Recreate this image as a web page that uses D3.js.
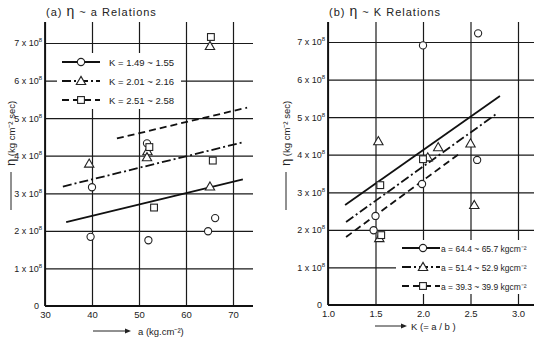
<!DOCTYPE html>
<html>
<head>
<meta charset="utf-8">
<script src="https://d3js.org/d3.v7.min.js"></script>
<style>
  body { margin: 0; background: #fff; }
  svg { font-family: "Liberation Sans", Arial, sans-serif; fill: #222; }
  .grid line { stroke: #1a1a1a; stroke-width: 1.2; }
  .grid path { display: none; }
  .axisline { stroke: #111; stroke-width: 1.8; }
  .fit { fill: none; stroke: #111; stroke-width: 1.8; }
  .mark { fill: #fff; stroke: #222; stroke-width: 1.1; }
</style>
</head>
<body>
<script>
// ---- data ----
// panel (a): eta vs a, grouped by K
var aCircles   = [[40, 3.16], [39.7, 1.84], [51.7, 4.33], [52, 1.75], [64.7, 1.99], [66.2, 2.34]];
var aTriangles = [[39.4, 3.79], [51.8, 4.12], [51.7, 3.96], [65.1, 3.18], [65.1, 6.92]];
var aSquares   = [[52.2, 4.23], [53.2, 2.62], [65.7, 3.87], [65.3, 7.16]];
var aFitSolid   = [[34.5, 2.23], [72.1, 3.37]];
var aFitDashDot = [[33.8, 3.18], [71.9, 4.35]];
var aFitDashed  = [[45.3, 4.46], [73.0, 5.28]];
var aTicksX = [30, 40, 50, 60, 70];
var aLegend = ["K = 1.49 ~ 1.55", "K = 2.01 ~ 2.16", "K = 2.51 ~ 2.58"];

// panel (b): eta vs K, grouped by a
var kCircles   = [[2.58, 7.23], [2.0, 6.91], [2.57, 3.86], [1.99, 3.22], [1.5, 2.37], [1.48, 1.99]];
var kTriangles = [[1.53, 4.36], [2.16, 4.2], [2.5, 4.3], [2.05, 3.93], [2.54, 2.66], [1.54, 1.78]];
var kSquares   = [[2.0, 3.88], [1.55, 3.19], [1.56, 1.86]];
var kFitSolid   = [[1.18, 2.66], [2.81, 5.56]];
var kFitDashDot = [[1.19, 2.21], [2.78, 5.10]];
var kFitDashed  = [[1.19, 1.81], [2.39, 4.04]];
var kTicksX = [1.0, 1.5, 2.0, 2.5, 3.0];
var kLegend = ["a = 64.4 ~ 65.7 kgcm⁻²", "a = 51.4 ~ 52.9 kgcm⁻²", "a = 39.3 ~ 39.9 kgcm⁻²"];

var yTicks = [0, 1, 2, 3, 4, 5, 6, 7];

var svg = d3.select("body").append("svg")
    .attr("width", 534).attr("height", 340);

var dashes = { solid: null, dashdot: "9,3,2,3", dashed: "7,4" };

function marker(g, type, x, y) {
  if (type == "circle") {
    g.append("circle").attr("class", "mark").attr("cx", x).attr("cy", y).attr("r", 3.6);
  } else if (type == "triangle") {
    g.append("path").attr("class", "mark")
      .attr("d", d3.symbol().type(d3.symbolTriangle).size(38)())
      .attr("transform", "translate(" + x + "," + (y + 0.8) + ")");
  } else {
    g.append("rect").attr("class", "mark")
      .attr("x", x - 3.4).attr("y", y - 3.4).attr("width", 6.8).attr("height", 6.8);
  }
}

function panel(o) {
  var x = d3.scaleLinear().domain(o.xDomain).range(o.xRange);
  var y = d3.scaleLinear().domain([0, 7]).range(o.yRange);
  var top = 22, bottom = o.yRange[0];
  var g = svg.append("g");

  // horizontal grid + y labels
  var ya = g.append("g").attr("class", "grid")
    .attr("transform", "translate(" + o.xRange[0] + ",0)")
    .call(d3.axisLeft(y).tickValues(yTicks).tickSize(-(o.xEnd - o.xRange[0])).tickPadding(4).tickFormat(""));
  ya.selectAll(".tick text").each(function(d) {
    var t = d3.select(this).attr("font-size", 9).attr("fill", "#222").attr("text-anchor", "end");
    if (d == 0) { t.text("0").attr("x", -6); return; }
    t.attr("x", -3);
    t.append("tspan").text(d + " x 10");
    t.append("tspan").text("8").attr("font-size", 6).attr("dy", -4);
  });

  // vertical grid + x labels
  var xa = g.append("g").attr("class", "grid")
    .attr("transform", "translate(0," + bottom + ")")
    .call(d3.axisBottom(x).tickValues(o.xTicks).tickSize(-(bottom - top)).tickPadding(6).tickFormat(o.fmt));
  xa.selectAll(".tick text").attr("font-size", 9.5).attr("fill", "#222").attr("dy", "0.6em");

  // axes lines
  g.append("line").attr("class", "axisline")
    .attr("x1", o.xRange[0]).attr("x2", o.xRange[0]).attr("y1", top).attr("y2", bottom);
  g.append("line").attr("class", "axisline")
    .attr("x1", o.xRange[0]).attr("x2", o.xEnd).attr("y1", bottom).attr("y2", bottom);

  // legend background
  g.append("rect").attr("x", o.legBox[0]).attr("y", o.legBox[1])
    .attr("width", o.legBox[2]).attr("height", o.legBox[3]).attr("fill", "#fff");

  // fitted lines
  var line = d3.line().x(function(d) { return x(d[0]); }).y(function(d) { return y(d[1]); });
  [[o.fits[0], "solid"], [o.fits[1], "dashdot"], [o.fits[2], "dashed"]].forEach(function(f) {
    g.append("path").attr("class", "fit").attr("d", line(f[0]))
      .attr("stroke-dasharray", dashes[f[1]]);
  });

  // points
  [[o.pts[0], "circle"], [o.pts[1], "triangle"], [o.pts[2], "square"]].forEach(function(p) {
    p[0].forEach(function(d) { marker(g, p[1], x(d[0]), y(d[1])); });
  });

  // legend
  var types = ["circle", "triangle", "square"], styles = ["solid", "dashdot", "dashed"];
  types.forEach(function(t, i) {
    var ly = o.legY + i * o.legStep;
    g.append("line").attr("class", "fit").attr("stroke-width", 1.2)
      .attr("x1", o.legX[0]).attr("x2", o.legX[2]).attr("y1", ly).attr("y2", ly)
      .attr("stroke-dasharray", dashes[styles[i]]);
    marker(g, t, o.legX[1], ly);
    g.append("text").attr("x", o.legX[3]).attr("y", ly + 3.5)
      .attr("font-size", o.legFont).text(o.legend[i]);
  });

  // title
  var tt = g.append("text").attr("x", o.xRange[0] + 1).attr("y", 16).attr("font-size", 11)
    .attr("letter-spacing", 1);
  tt.append("tspan").text(o.title[0] + " ");
  tt.append("tspan").text("η").attr("font-size", 14);
  tt.append("tspan").text(" ~ " + o.title[1] + "   Relations");

  // y label
  g.append("line").attr("stroke", "#222").attr("stroke-width", 1)
    .attr("x1", o.yLabX - 1).attr("x2", o.yLabX - 1).attr("y1", 210).attr("y2", 172);
  var yl = g.append("text").attr("transform", "translate(" + (o.yLabX + 3) + ",166) rotate(-90)")
    .attr("font-size", 9.5);
  yl.append("tspan").text("η").attr("font-size", 13);
  yl.append("tspan").text(" (kg cm⁻² sec)");

  // x label
  g.append("line").attr("stroke", "#222").attr("stroke-width", 1)
    .attr("x1", o.xLab[0]).attr("x2", o.xLab[1] - 4).attr("y1", o.xLab[3]).attr("y2", o.xLab[3]);
  g.append("path").attr("d", "M" + o.xLab[1] + "," + o.xLab[3] + "l-6,-2.5v5z").attr("fill", "#222");
  g.append("text").attr("x", o.xLab[2]).attr("y", o.xLab[3] + 3.5).attr("font-size", 9.5).text(o.xLabText);
}

panel({
  xDomain: [30, 70], xRange: [45, 233], xEnd: 253, yRange: [306, 43],
  xTicks: aTicksX, fmt: d3.format("d"),
  fits: [aFitSolid, aFitDashDot, aFitDashed], pts: [aCircles, aTriangles, aSquares],
  legBox: [57, 53, 124, 56], legY: 62, legStep: 19, legX: [62, 81, 100, 109], legFont: 9.5,
  legend: aLegend, title: ["(a)", "a"], yLabX: 12,
  xLab: [93, 131, 138, 331], xLabText: "a  (kg.cm⁻²)"
});

panel({
  xDomain: [1.0, 3.0], xRange: [328, 518], xEnd: 534, yRange: [305, 42],
  xTicks: kTicksX, fmt: d3.format(".1f"),
  fits: [kFitSolid, kFitDashDot, kFitDashed], pts: [kCircles, kTriangles, kSquares],
  legBox: [396, 240, 138, 54], legY: 248, legStep: 19, legX: [402, 423, 440, 441], legFont: 8.5,
  legend: kLegend, title: ["(b)", "K"], yLabX: 287,
  xLab: [375, 407, 411, 326], xLabText: "K (= a / b )"
});
</script>
</body>
</html>
